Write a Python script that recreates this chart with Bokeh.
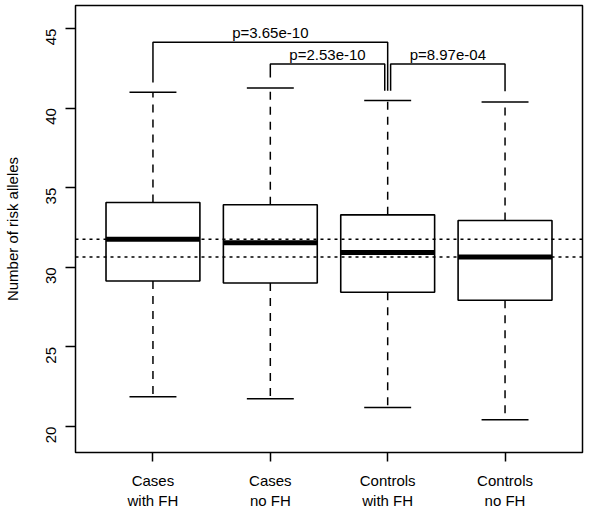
import math
from bokeh.plotting import figure
from bokeh.models import Range1d, FixedTicker, Span
from bokeh.core.properties import value
from bokeh.embed import file_html
from bokeh.resources import INLINE

# ---- data ----
categories = ["Cases\nwith FH", "Cases\nno FH", "Controls\nwith FH", "Controls\nno FH"]
upper_whisker = [41.00, 41.27, 40.49, 40.39]
q3 = [34.07, 33.93, 33.30, 32.94]
median = [31.76, 31.55, 30.93, 30.65]
q1 = [29.14, 29.02, 28.44, 27.93]
lower_whisker = [21.87, 21.75, 21.19, 20.42]
reference_lines = [31.76, 30.65]
y_ticks = [20, 25, 30, 35, 40, 45]

# significance brackets: left x, right x, top, left-leg bottom, right-leg bottom
bracket_x0 = [1, 2, 3.025]
bracket_x1 = [3, 2.975, 4]
bracket_top = [44.14, 42.78, 42.78]
bracket_y0 = [41.62, 41.92, 41.10]
bracket_y1 = [41.10, 41.10, 41.06]
p_labels = ["p=3.65e-10", "p=2.53e-10", "p=8.97e-04"]

FONT = "Liberation Sans"
FS = "15px"
INK = "black"

positions = list(range(1, len(categories) + 1))
box_w = 0.8
cap_w = 0.4

p = figure(width=584, height=511, output_backend="svg", toolbar_location=None,
           x_range=Range1d(0.34, 4.66), y_range=Range1d(18.37, 46.45),
           min_border_left=73, min_border_right=2, min_border_top=5,
           min_border_bottom=55)
p.background_fill_color = "white"
p.border_fill_color = "white"
p.outline_line_color = INK
p.outline_line_width = 1.5
p.xgrid.visible = False
p.ygrid.visible = False

# whiskers (dashed)
p.segment(x0=positions, x1=positions, y0=q3, y1=upper_whisker,
          line_color=INK, line_width=1.5, line_dash="8 7")
p.segment(x0=positions, x1=positions, y0=q1, y1=lower_whisker,
          line_color=INK, line_width=1.5, line_dash="8 7")
# caps
cx0 = [x - cap_w / 2 for x in positions]
cx1 = [x + cap_w / 2 for x in positions]
p.segment(x0=cx0, x1=cx1, y0=upper_whisker, y1=upper_whisker, line_color=INK, line_width=1.5)
p.segment(x0=cx0, x1=cx1, y0=lower_whisker, y1=lower_whisker, line_color=INK, line_width=1.5)
# boxes
p.vbar(x=positions, top=q3, bottom=q1, width=box_w, fill_color="white",
       line_color=INK, line_width=1.6)
# medians
p.segment(x0=[x - box_w / 2 for x in positions], x1=[x + box_w / 2 for x in positions],
          y0=median, y1=median, line_color=INK, line_width=5)

# dotted reference lines
for v in reference_lines:
    p.add_layout(Span(location=v, dimension="width", line_color=INK,
                      line_width=1.5, line_dash="3 4"))

# brackets
xs = [[a, a, b, b] for a, b in zip(bracket_x0, bracket_x1)]
ys = [[y0, t, t, y1] for y0, t, y1 in zip(bracket_y0, bracket_top, bracket_y1)]
p.multi_line(xs=xs, ys=ys, line_color=INK, line_width=1.5)
p.text(x=[(a + b) / 2 for a, b in zip(bracket_x0, bracket_x1)],
       y=[t + 0.62 for t in bracket_top], text=p_labels,
       text_font=value(FONT), text_font_size=FS, text_color=INK,
       text_align="center", text_baseline="middle")

# axes
xa = p.xaxis[0]
xa.ticker = FixedTicker(ticks=positions)
xa.major_label_overrides = {x: c for x, c in zip(positions, categories)}
xa.axis_line_color = None
xa.major_tick_in = 0
xa.major_tick_out = 9
xa.major_tick_line_color = INK
xa.major_tick_line_width = 1.5
xa.minor_tick_line_color = None
xa.major_label_standoff = 10
xa.major_label_text_font = FONT
xa.major_label_text_font_size = FS
xa.major_label_text_color = INK

ya = p.yaxis[0]
ya.ticker = FixedTicker(ticks=y_ticks)
ya.axis_line_color = None
ya.major_tick_in = 0
ya.major_tick_out = 10
ya.major_tick_line_color = INK
ya.major_tick_line_width = 1.5
ya.minor_tick_line_color = None
ya.major_label_orientation = math.pi / 2
ya.major_label_standoff = 14
ya.major_label_text_font = FONT
ya.major_label_text_font_size = FS
ya.major_label_text_color = INK
ya.axis_label = "Number of risk alleles"
ya.axis_label_text_font = FONT
ya.axis_label_text_font_size = FS
ya.axis_label_text_font_style = "normal"
ya.axis_label_text_color = INK
ya.axis_label_standoff = 18

open("out.html", "w").write(file_html(p, INLINE))
